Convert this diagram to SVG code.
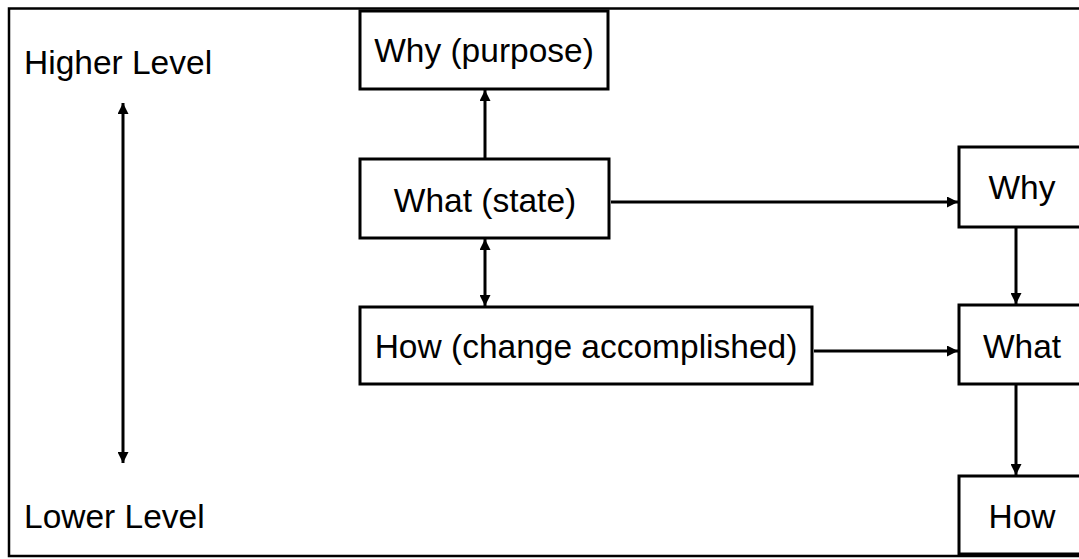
<svg xmlns="http://www.w3.org/2000/svg" width="1079" height="559" viewBox="0 0 1079 559">
  <style>
    .box { fill: #ffffff; stroke: #000000; stroke-width: 3; }
    .lbl { font-family: "Liberation Sans", Arial, sans-serif; font-size: 33.5px; fill: #000000; }
    .mid { text-anchor: middle; }
    .conn { stroke: #000000; stroke-width: 3; fill: none; }
  </style>
  <defs>
    <marker id="head" viewBox="0 0 10 10" refX="10" refY="5" markerWidth="12" markerHeight="11" markerUnits="userSpaceOnUse" orient="auto-start-reverse">
      <path d="M0,0 L10,5 L0,10 Z" fill="#000000"/>
    </marker>
  </defs>

  <rect width="1079" height="559" fill="#ffffff"/>
  <!-- outer frame, open on the right -->
  <rect x="9" y="8.5" width="1100" height="547.5" fill="none" stroke="#000000" stroke-width="2.5"/>

  <g id="level-labels">
    <text class="lbl" x="24" y="74">Higher Level</text>
    <text class="lbl" x="24" y="528">Lower Level</text>
  </g>

  <g id="connectors">
    <line class="conn" x1="123" y1="103" x2="123" y2="463" marker-start="url(#head)" marker-end="url(#head)"/>
    <line class="conn" x1="485" y1="158" x2="485" y2="90" marker-end="url(#head)"/>
    <line class="conn" x1="485" y1="239" x2="485" y2="306" marker-start="url(#head)" marker-end="url(#head)"/>
    <line class="conn" x1="611" y1="202" x2="958" y2="202" marker-end="url(#head)"/>
    <line class="conn" x1="814" y1="351" x2="958" y2="351" marker-end="url(#head)"/>
    <line class="conn" x1="1016" y1="228" x2="1016" y2="304" marker-end="url(#head)"/>
    <line class="conn" x1="1016" y1="385" x2="1016" y2="475" marker-end="url(#head)"/>
  </g>

  <g id="why-purpose">
    <rect class="box" x="360" y="11" width="248" height="78"/>
    <text class="lbl mid" x="484" y="62">Why (purpose)</text>
  </g>
  <g id="what-state">
    <rect class="box" x="360" y="159" width="249" height="79"/>
    <text class="lbl mid" x="485" y="212">What (state)</text>
  </g>
  <g id="how-change">
    <rect class="box" x="360" y="307" width="452" height="77"/>
    <text class="lbl mid" x="586" y="358">How (change accomplished)</text>
  </g>
  <g id="why">
    <rect class="box" x="959" y="147" width="128" height="80"/>
    <text class="lbl mid" x="1022" y="199">Why</text>
  </g>
  <g id="what">
    <rect class="box" x="959" y="305" width="128" height="79"/>
    <text class="lbl mid" x="1022" y="358">What</text>
  </g>
  <g id="how">
    <rect class="box" x="959" y="476" width="128" height="78"/>
    <text class="lbl mid" x="1022" y="528">How</text>
  </g>
</svg>
